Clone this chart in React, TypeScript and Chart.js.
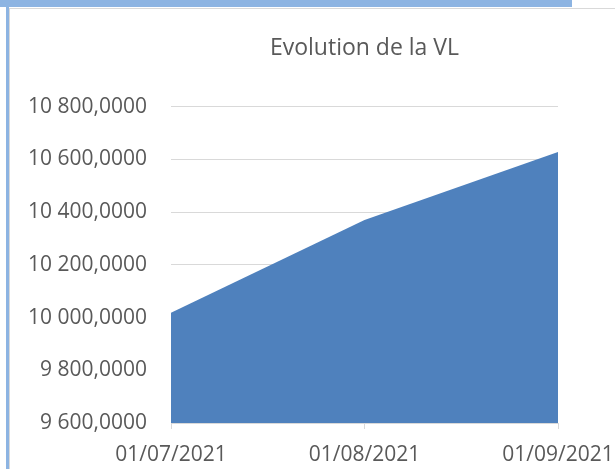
import React, { useEffect, useRef } from "react";
import { Chart, registerables } from "chart.js";

Chart.register(...registerables);

const categories = ["01/07/2021", "01/08/2021", "01/09/2021"];
const vlValues = [10018, 10370, 10628];
const yMin = 9600;
const yMax = 10800;
const yStep = 200;
const chartTitle = "Evolution de la VL";

const FONT = "'Open Sans', sans-serif";
const TEXT = "#595959";
const GRID = "#D9D9D9";

function formatFr(v: number): string {
  const s = Math.round(v).toString();
  const withSpaces = s.replace(/\B(?=(\d{3})+(?!\d))/g, " ");
  return withSpaces + ",0000";
}

export default function App() {
  const ref = useRef<HTMLCanvasElement>(null);
  useEffect(() => {
    if (!ref.current) return;
    const chart = new Chart(ref.current, {
      type: "line",
      data: {
        labels: categories,
        datasets: [
          {
            data: vlValues,
            fill: "start",
            backgroundColor: "#4F81BD",
            borderWidth: 0,
            pointRadius: 0,
            tension: 0,
          },
        ],
      },
      options: {
        animation: false,
        responsive: false,
        maintainAspectRatio: false,
        layout: { padding: { left: 0, right: 57, top: 0, bottom: 0 } },
        plugins: {
          legend: { display: false },
          tooltip: { enabled: false },
          title: {
            display: true,
            text: chartTitle,
            fullSize: false,
            color: TEXT,
            font: { family: FONT, size: 23, weight: "normal", lineHeight: 1.2 },
            padding: { top: 35, bottom: 44 },
          },
        },
        scales: {
          x: {
            offset: false,
            grid: {
              drawOnChartArea: false,
              drawTicks: true,
              tickLength: 6,
              color: GRID,
            },
            border: { display: true, color: GRID },
            ticks: {
              color: TEXT,
              font: { family: FONT, size: 21 },
              padding: 13,
              maxRotation: 0,
              autoSkip: false,
            },
            afterFit: (s: any) => {
              s.height = 469 - 423;
              s.paddingLeft = 0;
              s.paddingRight = 0;
            },
          },
          y: {
            min: yMin,
            max: yMax,
            grid: { color: GRID, drawTicks: false },
            border: { display: false },
            ticks: {
              stepSize: yStep,
              color: TEXT,
              font: { family: FONT, size: 21 },
              padding: 24,
              callback: (v: any) => formatFr(Number(v)),
            },
            afterFit: (s: any) => {
              s.width = 171;
              s.paddingTop = 0;
              s.paddingBottom = 0;
            },
          },
        },
      },
    });
    return () => chart.destroy();
  }, []);

  return (
    <div
      style={{
        position: "fixed",
        left: 0,
        top: 0,
        width: 615,
        height: 469,
        background: "#fff",
        overflow: "hidden",
      }}
    >
      <div style={{ position: "absolute", left: 0, top: 0, width: 572, height: 7, background: "#8DB4E2" }} />
      <div style={{ position: "absolute", left: 6, top: 0, width: 3, height: 469, background: "#8DB4E2" }} />
      <div style={{ position: "absolute", left: 9, top: 8, width: 606, height: 1, background: "#D9D9D9" }} />
      <div style={{ position: "absolute", left: 9, top: 8, width: 1, height: 461, background: "#D9D9D9" }} />
      <canvas
        ref={ref}
        width={615}
        height={469}
        style={{ position: "absolute", left: 0, top: 0, width: 615, height: 469 }}
      />
    </div>
  );
}
